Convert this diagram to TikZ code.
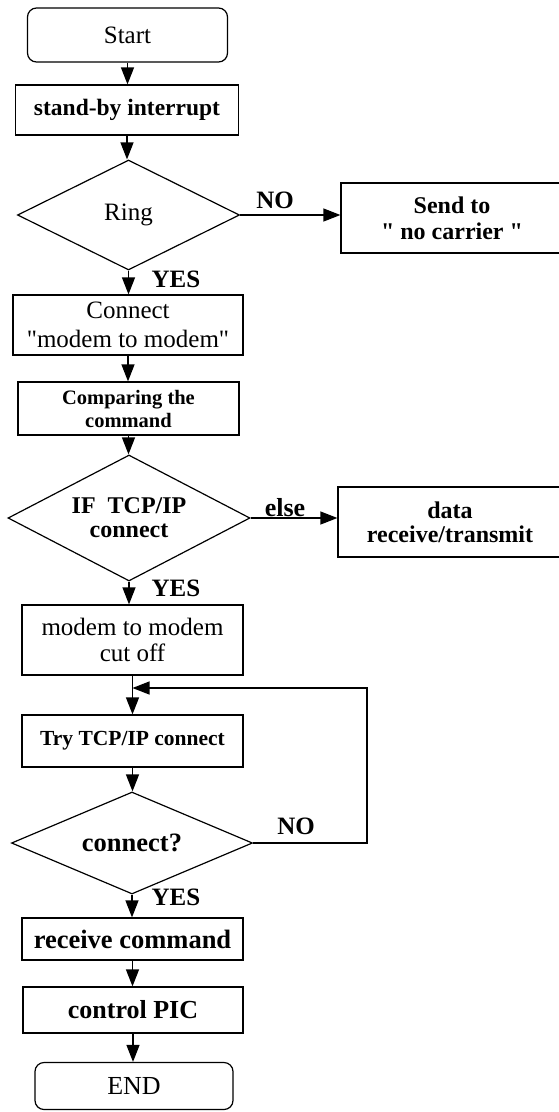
\documentclass[tikz,border=0pt]{standalone}
\usepackage{fontspec}
\setmainfont{Liberation Serif}
\usetikzlibrary{shapes.geometric,arrows.meta}
\newcommand{\myfs}[2]{\fontsize{#1}{#2}\selectfont}
\newcommand{\dq}{\textquotedbl}
\tikzset{
  box/.style={draw, rectangle, inner sep=0pt, align=center, line width=1.2pt},
  term/.style={box, rounded corners=9pt},
  dec/.style={draw, diamond, aspect=2, inner sep=0pt, align=center, line width=1.2pt},
  flow/.style={line width=1.2pt, -{Triangle[length=17pt,width=13pt]}},
  lbl/.style={font=\myfs{25}{28}\bfseries, inner sep=0pt},
}
\begin{document}
\begin{tikzpicture}[x=1pt,y=-1pt]
\fill[white] (0,0) rectangle (559,1112);
\useasboundingbox (0,0) rectangle (559,1112);

\node[term, minimum width=200pt, minimum height=54pt, font=\myfs{25}{29}] (start) at (127.5,35) {Start};
\node[box, minimum width=223pt, minimum height=50pt, font=\myfs{23.5}{28}\bfseries] (standby) at (127,110) {stand-by interrupt};
\node[dec, minimum width=222pt, minimum height=110pt, font=\myfs{25}{29}] (ring) at (128.5,215) {Ring};
\node[box, minimum width=222pt, minimum height=70pt, font=\myfs{24}{26}\bfseries] (send) at (452,218) {Send to\\\dq{} no carrier \dq};
\node[box, minimum width=230pt, minimum height=60pt, font=\myfs{25}{29}] (conn) at (128,325) {Connect\\\dq modem to modem\dq};
\node[box, minimum width=221pt, minimum height=53pt, font=\myfs{20.5}{23}\bfseries] (comp) at (128.5,408.5) {Comparing the\\command};
\node[dec, minimum width=242pt, minimum height=126pt, font=\myfs{24}{24}\bfseries] (iftcp) at (129,518) {IF\ \ TCP/IP\\connect};
\node[box, minimum width=224pt, minimum height=70pt, font=\myfs{24}{24}\bfseries] (data) at (450,522) {data\\receive/transmit};
\node[box, minimum width=221pt, minimum height=70pt, font=\myfs{25}{26}] (cut) at (132.5,640) {modem to modem\\cut off};
\node[box, minimum width=221pt, minimum height=52pt, font=\myfs{21.5}{24}\bfseries] (try) at (132.5,741) {Try TCP/IP connect};
\node[dec, minimum width=241pt, minimum height=102pt, font=\myfs{26.5}{28}\bfseries] (conq) at (132,843) {connect?};
\node[box, minimum width=221pt, minimum height=42pt, font=\myfs{26.5}{28}\bfseries] (recv) at (132.5,939) {receive command};
\node[box, minimum width=220pt, minimum height=46pt, font=\myfs{26}{28}\bfseries] (ctrl) at (133,1010) {control PIC};
\node[term, minimum width=198pt, minimum height=47pt, font=\myfs{26}{29}] (end) at (134,1086) {END};

\coordinate (loopR) at (367,688);

\draw[flow] (start.south) -- (start.south |- standby.north);
\draw[flow] (standby.south) -- (standby.south |- ring.north);
\draw[flow] (ring.south) -- (ring.south |- conn.north);
\draw[flow] (ring.east) -- (send.west |- ring.east);
\draw[flow] (conn.south) -- (conn.south |- comp.north);
\draw[flow] (comp.south) -- (comp.south |- iftcp.north);
\draw[flow] (iftcp.east) -- (data.west |- iftcp.east);
\draw[flow] (iftcp.south) -- (iftcp.south |- cut.north);
\draw[flow] (cut.south) -- (cut.south |- try.north);
\draw[flow] (try.south) -- (try.south |- conq.north);
\draw[flow] (conq.east) -- (conq.east -| loopR) -- (loopR) -- (cut.south |- loopR);
\draw[flow] (conq.south) -- (conq.south |- recv.north);
\draw[flow] (recv.south) -- (recv.south |- ctrl.north);
\draw[flow] (ctrl.south) -- (ctrl.south |- end.north);

\node[lbl] (yes1) at (176,279) {YES};
\node[lbl] (no1) at (275,200) {NO};
\node[lbl, font=\myfs{26}{28}\bfseries] (lelse) at (285,508) {else};
\node[lbl] (yes2) at (176,588) {YES};
\node[lbl] (no2) at (296,826) {NO};
\node[lbl] (yes3) at (176,897) {YES};
\end{tikzpicture}
\end{document}
